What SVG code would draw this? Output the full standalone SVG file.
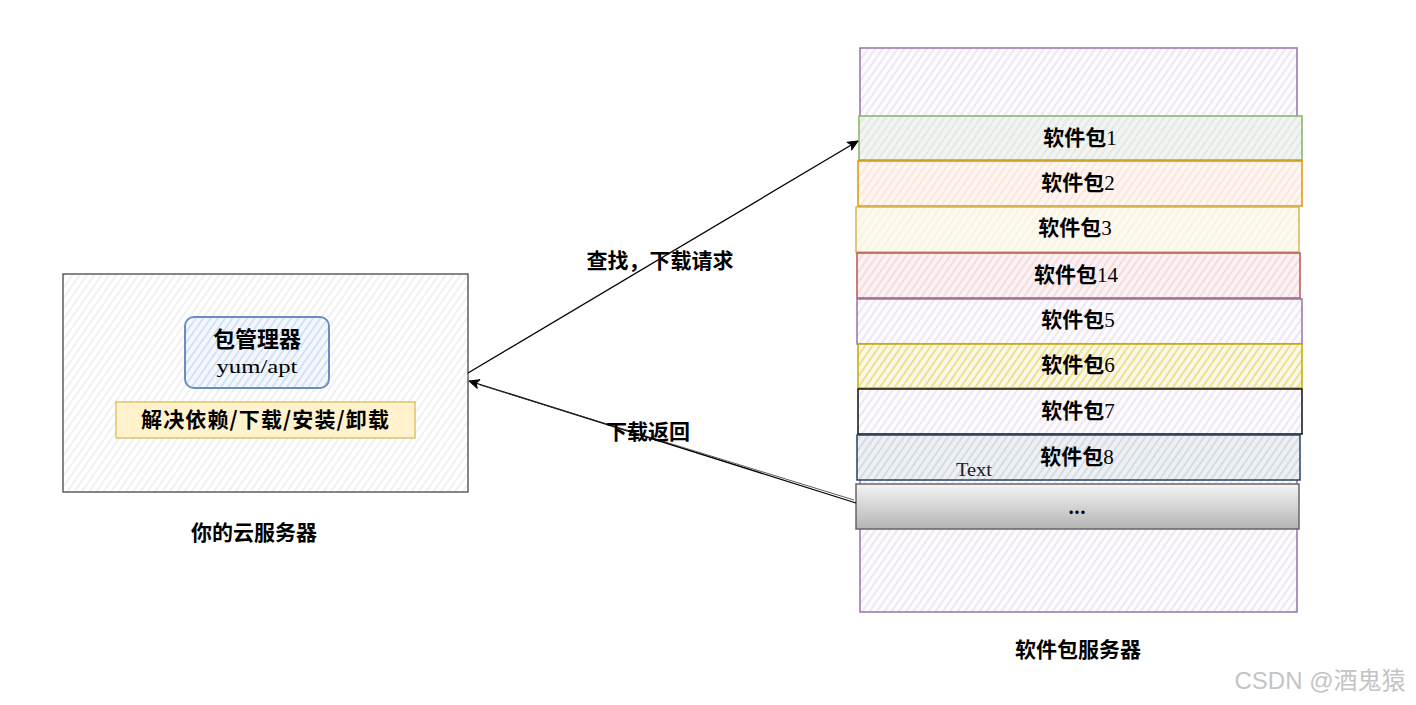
<svg xmlns="http://www.w3.org/2000/svg" width="1416" height="705" viewBox="0 0 1416 705">
<defs>
<pattern id="hGray" width="6" height="6" patternUnits="userSpaceOnUse" patternTransform="rotate(35)"><rect width="6" height="6" fill="#ffffff"/><line x1="1" y1="0" x2="1" y2="6" stroke="#e2e2e2" stroke-width="1"/></pattern>
<pattern id="hBlue" width="6" height="6" patternUnits="userSpaceOnUse" patternTransform="rotate(35)"><rect width="6" height="6" fill="#f4f8fe"/><line x1="1" y1="0" x2="1" y2="6" stroke="#bcd2ee" stroke-width="1.2"/></pattern>
<pattern id="hPurple" width="6" height="6" patternUnits="userSpaceOnUse" patternTransform="rotate(35)"><rect width="6" height="6" fill="#fdfbfe"/><line x1="1" y1="0" x2="1" y2="6" stroke="#e4d9ea" stroke-width="1.2"/></pattern>
<pattern id="hGreen" width="6" height="6" patternUnits="userSpaceOnUse" patternTransform="rotate(35)"><rect width="6" height="6" fill="#f2f3f2"/><line x1="1" y1="0" x2="1" y2="6" stroke="#d6e6d4" stroke-width="1.2"/></pattern>
<pattern id="hOrange" width="6" height="6" patternUnits="userSpaceOnUse" patternTransform="rotate(35)"><rect width="6" height="6" fill="#fdf6f4"/><line x1="1" y1="0" x2="1" y2="6" stroke="#fde0c6" stroke-width="1.2"/></pattern>
<pattern id="hYellow" width="6" height="6" patternUnits="userSpaceOnUse" patternTransform="rotate(35)"><rect width="6" height="6" fill="#fdfaf4"/><line x1="1" y1="0" x2="1" y2="6" stroke="#fcefcc" stroke-width="1.2"/></pattern>
<pattern id="hRed" width="6" height="6" patternUnits="userSpaceOnUse" patternTransform="rotate(35)"><rect width="6" height="6" fill="#fbf2f5"/><line x1="1" y1="0" x2="1" y2="6" stroke="#f5cdcc" stroke-width="1.2"/></pattern>
<pattern id="hGold" width="6" height="6" patternUnits="userSpaceOnUse" patternTransform="rotate(35)"><rect width="6" height="6" fill="#faf7ee"/><line x1="1" y1="0" x2="1" y2="6" stroke="#e8d64e" stroke-width="1.3"/></pattern>
<pattern id="hSlate" width="6" height="6" patternUnits="userSpaceOnUse" patternTransform="rotate(35)"><rect width="6" height="6" fill="#eef0f4"/><line x1="1" y1="0" x2="1" y2="6" stroke="#c4d0da" stroke-width="1.2"/></pattern>
<linearGradient id="gGray" x1="0" y1="0" x2="0" y2="1"><stop offset="0" stop-color="#f4f4f4"/><stop offset="1" stop-color="#b4b4b4"/></linearGradient>
<marker id="arr" viewBox="0 0 12 12" refX="11" refY="6" markerWidth="12" markerHeight="12" markerUnits="userSpaceOnUse" orient="auto-start-reverse"><path d="M1,1.5 L11,6 L1,10.5 L3.5,6 Z" fill="#000" stroke="#000" stroke-width="1" stroke-linejoin="round"/></marker>
</defs>
<style>
.cjk{font-family:"Noto Sans CJK SC","Liberation Sans",sans-serif;font-weight:bold;fill:#000;}
.ser{font-family:"Liberation Serif",serif;font-weight:normal;}
.lbl{font-size:21px;text-anchor:middle;}
.pl{font-size:21px;text-anchor:middle;}
.pkg{stroke-width:1.5;}
</style>

<g id="cloud-server">
<rect x="63" y="274" width="405" height="218" fill="url(#hGray)" stroke="#5f5f5f" stroke-width="1.5"/>
<text class="cjk lbl" x="254" y="540">你的云服务器</text>
</g>

<g id="package-manager">
<rect x="185" y="317" width="144" height="71" rx="9" fill="url(#hBlue)" stroke="#6c8ebf" stroke-width="2"/>
<text class="cjk" x="257" y="347" font-size="22" text-anchor="middle">包管理器</text>
<text class="ser" x="257" y="373" font-size="19" text-anchor="middle" textLength="81" lengthAdjust="spacingAndGlyphs">yum/apt</text>
</g>

<g id="functions">
<rect x="116" y="402" width="299" height="36" fill="#fff2cc" stroke="#d6b656" stroke-width="1.2"/>
<text class="cjk" x="265" y="427" font-size="21" text-anchor="middle" textLength="248" lengthAdjust="spacing">解决依赖/下载/安装/卸载</text>
</g>

<g id="package-server">
<rect x="860" y="48" width="437" height="564" fill="url(#hPurple)" stroke="#9673a6" stroke-width="1.5"/>
<text class="cjk lbl" x="1078" y="657">软件包服务器</text>
</g>

<g id="pkg1"><rect class="pkg" x="859" y="116" width="443" height="44" fill="url(#hGreen)" stroke="#82b366"/><text class="cjk pl" x="1080" y="145">软件包<tspan class="ser">1</tspan></text></g>
<g id="pkg2"><rect class="pkg" x="858" y="161" width="444" height="45" fill="url(#hOrange)" stroke="#d79b00"/><text class="cjk pl" x="1078" y="190">软件包<tspan class="ser">2</tspan></text></g>
<g id="pkg3"><rect class="pkg" x="856" y="207" width="443" height="45" fill="url(#hYellow)" stroke="#d6b656"/><text class="cjk pl" x="1075" y="235">软件包<tspan class="ser">3</tspan></text></g>
<g id="pkg14"><rect class="pkg" x="857" y="253" width="443" height="45" fill="url(#hRed)" stroke="#b85450"/><text class="cjk pl" x="1076" y="282">软件包<tspan class="ser">14</tspan></text></g>
<g id="pkg5"><rect class="pkg" x="857" y="299" width="445" height="45" fill="url(#hPurple)" stroke="#9673a6"/><text class="cjk pl" x="1078" y="327">软件包<tspan class="ser">5</tspan></text></g>
<g id="pkg6"><rect class="pkg" x="858" y="344" width="444" height="44" fill="url(#hGold)" stroke="#c8a800"/><text class="cjk pl" x="1078" y="372">软件包<tspan class="ser">6</tspan></text></g>
<g id="pkg7"><rect class="pkg" x="858" y="389" width="444" height="45" fill="url(#hPurple)" stroke="#111111"/><text class="cjk pl" x="1078" y="418">软件包<tspan class="ser">7</tspan></text></g>
<g id="pkg8"><rect class="pkg" x="857" y="435" width="443" height="45" fill="url(#hSlate)" stroke="#23445d"/><text class="cjk pl" x="1077" y="464">软件包<tspan class="ser">8</tspan></text><text class="ser" x="956" y="476" font-size="18" textLength="36" lengthAdjust="spacingAndGlyphs" fill="#222">Text</text></g>
<g id="pkg-more"><rect x="856" y="484" width="443" height="45" fill="url(#gGray)" stroke="#666666" stroke-width="1.5"/><text class="cjk" x="1077" y="514" font-size="18" text-anchor="middle">...</text></g>

<g id="connectors">
<line x1="468" y1="373" x2="858" y2="141" stroke="#000" stroke-width="1.3" marker-end="url(#arr)"/>
<line x1="856" y1="503" x2="469" y2="381" stroke="#000" stroke-width="1.3" marker-end="url(#arr)"/>
<line x1="854" y1="500" x2="480" y2="385" stroke="#333" stroke-width="0.8"/>
<text class="cjk lbl" x="660" y="268">查找，下载请求</text>
<text class="cjk lbl" x="648" y="439">下载返回</text>
</g>

<text x="1320" y="689" font-family="'Liberation Sans','Noto Sans CJK SC',sans-serif" font-size="24" fill="#c4c4c4" text-anchor="middle">CSDN @酒鬼猿</text>
</svg>
